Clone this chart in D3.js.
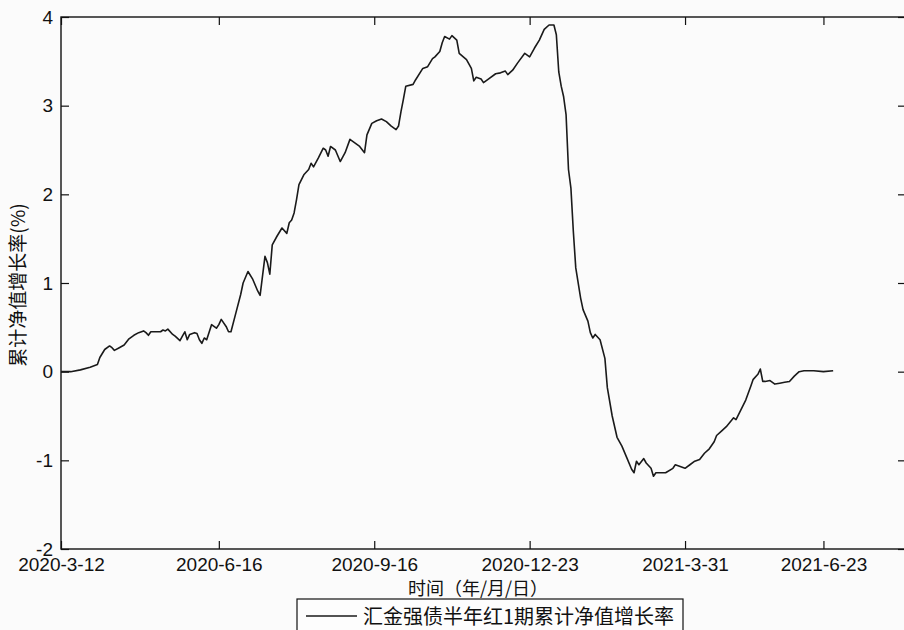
<!DOCTYPE html>
<html lang="zh">
<head>
    <meta charset="UTF-8">
    <title>汇金强债半年红1期累计净值增长率</title>
    <script src="https://d3js.org/d3.v7.min.js"></script>
    <style>
        body { margin: 0; background: #fbfbfb; }
        svg { display: block; }
        .axis text {
            font-family: "Liberation Sans", Arial, sans-serif;
            font-size: 19px;
            fill: #111;
        }
        .axis line { stroke: #111; stroke-width: 1.2; }
        .cjk { font-family: "Noto Sans CJK SC", sans-serif; fill: #111; }
    </style>
</head>
<body>
<div id="chart"></div>
<script>

    /* trading-day index since 2020-3-12 and cumulative NAV growth (%) */
    var dayIndex = [0, 4, 8, 12, 15, 16, 18, 20, 21, 22, 24, 26, 28, 30, 32, 34, 35, 36, 37, 39,
        41, 42, 43, 44, 46, 47, 49, 50, 51, 52, 53, 55, 56, 57, 58, 59, 60, 62, 64, 65,
        66, 68, 69, 70, 72, 74, 75, 77, 79, 81, 82, 84, 85, 86, 87, 89, 91, 93, 94, 95,
        96, 97, 98, 100, 102, 103, 104, 106, 108, 109, 110, 111, 113, 115, 117, 119, 120, 123, 125, 126,
        128, 130, 132, 134, 136, 138, 139, 140, 141, 142, 145, 146, 149, 151, 153, 154, 156, 157, 158, 160,
        161, 163, 164, 167, 169, 170, 171, 173, 174, 176, 179, 181, 183, 184, 186, 188, 191, 192, 193, 195,
        197, 199, 201, 203, 204, 205, 206, 207, 208, 209, 210, 211, 212, 214, 215, 217, 218, 219, 220, 222,
        224, 225, 227, 229, 231, 233, 235, 236, 237, 238, 240, 241, 243, 244, 245, 247, 249, 252, 253, 255,
        257, 259, 261, 263, 265, 267, 269, 270, 272, 274, 277, 278, 280, 282, 284, 285, 287, 288, 289, 290,
        292, 294, 296, 298, 300, 302, 304, 306, 310, 314, 318];

    var growth = [0.00, 0.00, 0.02, 0.05, 0.08, 0.16, 0.25, 0.29, 0.27, 0.24, 0.27, 0.30, 0.37, 0.41, 0.44, 0.46, 0.44, 0.41, 0.45, 0.45,
        0.45, 0.47, 0.46, 0.48, 0.42, 0.40, 0.35, 0.40, 0.45, 0.36, 0.42, 0.44, 0.43, 0.36, 0.32, 0.38, 0.36, 0.53, 0.49, 0.53,
        0.59, 0.51, 0.45, 0.45, 0.66, 0.87, 1.00, 1.13, 1.04, 0.91, 0.86, 1.30, 1.23, 1.10, 1.43, 1.53, 1.62, 1.56, 1.68, 1.71,
        1.79, 1.94, 2.11, 2.22, 2.28, 2.35, 2.31, 2.41, 2.52, 2.50, 2.43, 2.54, 2.50, 2.37, 2.47, 2.62, 2.60, 2.54, 2.47, 2.67,
        2.80, 2.83, 2.85, 2.82, 2.77, 2.73, 2.77, 2.93, 3.07, 3.22, 3.24, 3.29, 3.42, 3.44, 3.53, 3.55, 3.61, 3.71, 3.78, 3.75,
        3.79, 3.74, 3.59, 3.52, 3.42, 3.28, 3.32, 3.30, 3.26, 3.30, 3.36, 3.37, 3.39, 3.35, 3.40, 3.48, 3.59, 3.57, 3.55, 3.65,
        3.74, 3.86, 3.91, 3.91, 3.80, 3.38, 3.22, 3.10, 2.90, 2.28, 2.07, 1.58, 1.17, 0.83, 0.70, 0.57, 0.44, 0.38, 0.42, 0.36,
        0.15, -0.18, -0.50, -0.74, -0.84, -0.97, -1.10, -1.14, -1.01, -1.05, -0.98, -1.03, -1.09, -1.18, -1.14, -1.14, -1.14, -1.09, -1.05, -1.07,
        -1.09, -1.05, -1.01, -0.99, -0.92, -0.87, -0.79, -0.72, -0.67, -0.62, -0.52, -0.54, -0.43, -0.32, -0.17, -0.09, -0.03, 0.03, -0.11, -0.11,
        -0.10, -0.14, -0.13, -0.12, -0.11, -0.05, 0.00, 0.01, 0.01, 0.00, 0.01];

    var xTickIndex = [0, 65, 129, 193, 257, 314];
    var xTickLabels = ["2020-3-12", "2020-6-16", "2020-9-16", "2020-12-23", "2021-3-31", "2021-6-23"];
    var yTicks = [-2, -1, 0, 1, 2, 3, 4];

    var seriesName = "汇金强债半年红1期累计净值增长率";

    /* plot box (window.top is taken, so prefix everything) */
    var width = 904, height = 630;
    var boxLeft = 61, boxRight = 906, boxTop = 17, boxBottom = 549;

    var svg = d3.select("#chart").append("svg")
        .attr("width", width)
        .attr("height", height);

    var x = d3.scaleLinear().domain([0, 348]).range([boxLeft, boxRight]);
    var y = d3.scaleLinear().domain([-2, 4]).range([boxBottom, boxTop]);

    var data = dayIndex.map(function(d, i) { return {i: d, v: growth[i]}; });

    /* axes, ticks pointing inward like matlab */
    svg.append("g")
        .attr("class", "axis")
        .attr("transform", "translate(0," + boxBottom + ")")
        .call(d3.axisBottom(x)
            .tickValues(xTickIndex)
            .tickFormat(function(d, i) { return xTickLabels[i]; })
            .tickSizeInner(-8)
            .tickSizeOuter(0)
            .tickPadding(9))
        .select(".domain").remove();

    svg.append("g")
        .attr("class", "axis")
        .attr("transform", "translate(0," + boxTop + ")")
        .call(d3.axisTop(x)
            .tickValues(xTickIndex)
            .tickFormat("")
            .tickSizeInner(-8)
            .tickSizeOuter(0))
        .select(".domain").remove();

    svg.append("g")
        .attr("class", "axis")
        .attr("transform", "translate(" + boxLeft + ",0)")
        .call(d3.axisLeft(y)
            .tickValues(yTicks)
            .tickFormat(d3.format("d"))
            .tickSizeInner(-8)
            .tickSizeOuter(0)
            .tickPadding(8))
        .select(".domain").remove();

    svg.append("g")
        .attr("class", "axis")
        .attr("transform", "translate(" + boxRight + ",0)")
        .call(d3.axisRight(y)
            .tickValues(yTicks)
            .tickFormat("")
            .tickSizeInner(-8)
            .tickSizeOuter(0))
        .select(".domain").remove();

    // d3 uses a unicode minus, the reference has a plain hyphen
    svg.selectAll(".axis text").text(function() { return this.textContent.replace("−", "-"); });

    svg.append("rect")
        .attr("x", boxLeft)
        .attr("y", boxTop)
        .attr("width", boxRight - boxLeft)
        .attr("height", boxBottom - boxTop)
        .attr("fill", "none")
        .attr("stroke", "#111")
        .attr("stroke-width", 1.4);

    /* the series */
    var line = d3.line()
        .x(function(d) { return x(d.i); })
        .y(function(d) { return y(d.v); });

    svg.append("path")
        .datum(data)
        .attr("fill", "none")
        .attr("stroke", "#1a1a1a")
        .attr("stroke-width", 1.6)
        .attr("stroke-linejoin", "round")
        .attr("d", line);

    /* axis titles */
    svg.append("text")
        .attr("class", "cjk")
        .attr("x", 478)
        .attr("y", 595)
        .attr("text-anchor", "middle")
        .style("font-size", "18px")
        .text("时间（年/月/日）");

    svg.append("text")
        .attr("class", "cjk")
        .attr("transform", "translate(18," + ((boxTop + boxBottom) / 2 + 2) + ") rotate(-90)")
        .attr("text-anchor", "middle")
        .attr("dy", "0.35em")
        .style("font-size", "19px")
        .text("累计净值增长率(%)");

    /* legend */
    var lg = svg.append("g");
    lg.append("rect")
        .attr("x", 297)
        .attr("y", 599)
        .attr("width", 386)
        .attr("height", 40)
        .attr("fill", "#fdfdfd")
        .attr("stroke", "#111")
        .attr("stroke-width", 1.2);
    lg.append("line")
        .attr("x1", 306).attr("x2", 357)
        .attr("y1", 616).attr("y2", 616)
        .attr("stroke", "#1a1a1a")
        .attr("stroke-width", 1.5);
    lg.append("text")
        .attr("class", "cjk")
        .attr("x", 363)
        .attr("y", 624)
        .style("font-size", "20px")
        .text(seriesName);

</script>
</body>
</html>
